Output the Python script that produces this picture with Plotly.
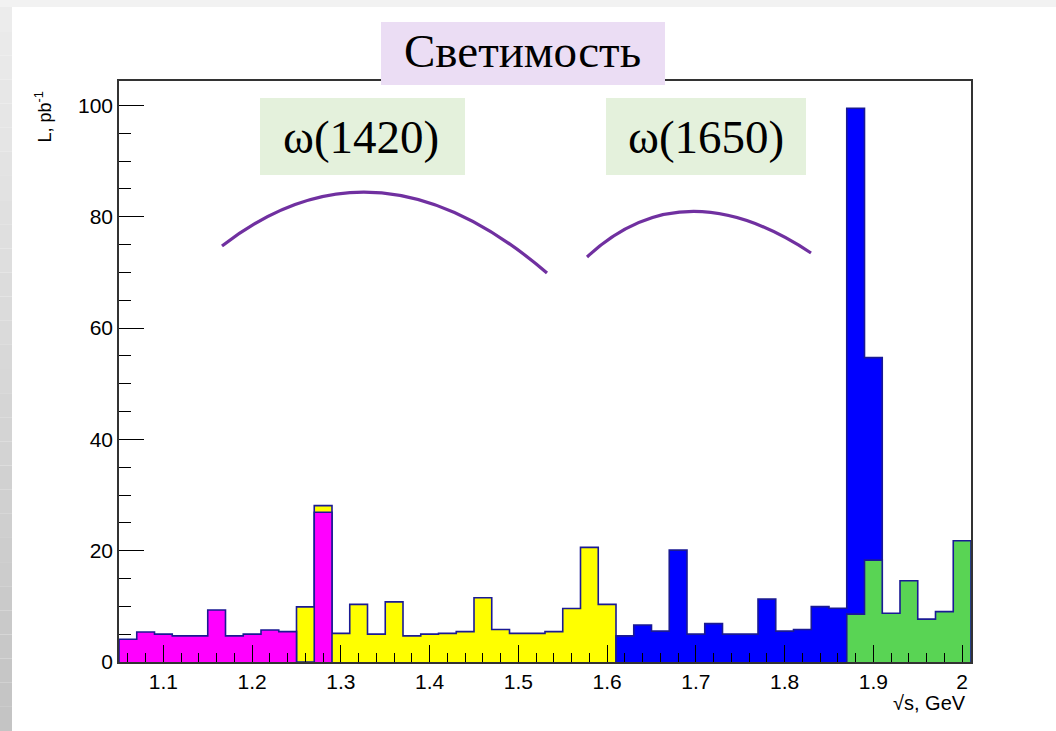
"""Светимость по энергии: гистограммы в стиле ROOT на слайде."""

import numpy as np
import plotly.graph_objects as go

# --- данные (значения L, pb^-1 в бинах по 0.02 ГэВ) ---
BIN_W = 0.02

MAGENTA_START = 1.05
magenta_vals = [4.1, 5.4, 5.0, 4.7, 4.7, 9.35, 4.7, 5.0, 5.75, 5.45, 0.0, 26.9]

YELLOW_START = 1.25
yellow_vals = [9.9, 28.1, 5.15, 10.35, 5.0, 10.8, 4.7, 5.0, 5.15, 5.45,
               11.55, 5.85, 5.15, 5.15, 5.45, 9.6, 20.6, 10.35]

BLUE_START = 1.61
blue_vals = [4.7, 6.65, 5.55, 20.1, 5.0, 6.9, 5.0, 5.0, 11.3, 5.55,
             5.85, 9.95, 9.65, 99.5, 54.7]

GREEN_START = 1.87
green_vals = [8.6, 18.3, 8.75, 14.6, 7.7, 9.05, 21.8]

x_tick_vals = [1.1, 1.2, 1.3, 1.4, 1.5, 1.6, 1.7, 1.8, 1.9, 2.0]
x_tick_text = ["1.1", "1.2", "1.3", "1.4", "1.5", "1.6", "1.7", "1.8", "1.9", "2"]
y_tick_vals = [0, 20, 40, 60, 80, 100]

# --- геометрия страницы (пиксели) ---
W, H = 1056, 731
L, R, T, B = 119, 971, 81, 662

COR_LINHA = "#1a1a94"
COR_ARCO = "#7030A0"


def px(xp, yp):
    """Пиксели страницы -> координаты paper."""
    return (xp - L) / (R - L), (B - yp) / (B - T)


def hist_trace(start, vals, fill):
    """Ступенчатая гистограмма с заливкой и контуром как в ROOT."""
    edges = np.round(start + BIN_W * np.arange(len(vals) + 1), 4)
    xs = [edges[0]] + list(edges[:-1]) + [edges[-1], edges[-1]]
    ys = [0.0] + list(vals) + [vals[-1], 0.0]
    return go.Scatter(
        x=xs, y=ys, mode="lines",
        line=dict(shape="hv", color=COR_LINHA, width=1.6),
        fill="tozeroy", fillcolor=fill,
        hoverinfo="skip", showlegend=False,
    )


fig = go.Figure()
fig.add_trace(hist_trace(YELLOW_START, yellow_vals, "#FFFF00"))
fig.add_trace(hist_trace(MAGENTA_START, magenta_vals, "#FF00FF"))
fig.add_trace(hist_trace(BLUE_START, blue_vals, "#0000FF"))
fig.add_trace(hist_trace(GREEN_START, green_vals, "#59D454"))

shapes = []

# Фон слайда: светлая полоса сверху и серый градиент слева.
x0, y0 = px(0, 0)
x1, y1 = px(W, 7)
shapes.append(dict(type="rect", xref="paper", yref="paper", x0=x0, x1=x1, y0=y1, y1=y0,
                   line=dict(width=0), fillcolor="#F2F2F2", layer="below"))
n_steps = 30
for i in range(n_steps):
    ya = 7 + (H - 7) * i / n_steps
    yb = 7 + (H - 7) * (i + 1) / n_steps
    g = int(236 - (236 - 196) * i / (n_steps - 1))
    xa, pa = px(0, ya)
    xb, pb = px(12, yb)
    shapes.append(dict(type="rect", xref="paper", yref="paper", x0=xa, x1=xb, y0=pb, y1=pa,
                       line=dict(width=0), fillcolor=f"rgb({g},{g},{g})", layer="below"))

# Плашки заголовка и резонансов.
for (bx0, by0, bx1, by1, cor) in [
    (381, 22, 665, 85, "#EBDDF4"),
    (260, 98, 465, 175, "#E4F1DC"),
    (606, 98, 806, 175, "#E4F1DC"),
]:
    a0, b0 = px(bx0, by0)
    a1, b1 = px(bx1, by1)
    shapes.append(dict(type="rect", xref="paper", yref="paper", x0=a0, x1=a1, y0=b1, y1=b0,
                       line=dict(width=0), fillcolor=cor, layer="above"))

# Дуги над областями резонансов.
for p0, c, p2 in [
    ((222, 246), (376, 126), (547, 273)),
    ((587, 257), (683, 168), (811, 253)),
]:
    a = px(*p0)
    b = px(*c)
    d = px(*p2)
    path = f"M {a[0]:.5f},{a[1]:.5f} Q {b[0]:.5f},{b[1]:.5f} {d[0]:.5f},{d[1]:.5f}"
    shapes.append(dict(type="path", xref="paper", yref="paper", path=path,
                       line=dict(color=COR_ARCO, width=3.2), layer="above"))

annotations = []
for txt, (cx, cy) in [
    ("Светимость", (522, 51)),
    ("ω(1420)", (361, 137)),
    ("ω(1650)", (706, 137)),
]:
    ax, ay = px(cx, cy)
    annotations.append(dict(xref="paper", yref="paper", x=ax, y=ay, text=txt,
                            showarrow=False, xanchor="center", yanchor="middle",
                            font=dict(family="Liberation Serif", size=47, color="black")))

ax, ay = px(968, 703)
annotations.append(dict(xref="paper", yref="paper", x=ax, y=ay, text="√s, GeV",
                        showarrow=False, xanchor="right", yanchor="middle",
                        font=dict(family="Liberation Sans", size=20, color="black")))
ax, ay = px(44, 90)
annotations.append(dict(xref="paper", yref="paper", x=ax, y=ay, text="L, pb<sup>-1</sup>",
                        showarrow=False, textangle=-90, xanchor="center", yanchor="top",
                        font=dict(family="Liberation Sans", size=18, color="black")))

fig.update_xaxes(
    range=[1.05, 2.01], tickvals=x_tick_vals, ticktext=x_tick_text,
    ticks="inside", ticklen=17, tickwidth=1.3, tickcolor="black",
    minor=dict(ticks="inside", ticklen=9, dtick=0.02, tick0=1.02, tickcolor="black"),
    showline=True, linecolor="#333333", linewidth=1.6, mirror=True,
    showgrid=False, zeroline=False,
    tickfont=dict(family="Liberation Sans", size=21, color="black"),
)
fig.update_yaxes(
    range=[0, 104.4], tickvals=y_tick_vals,
    ticks="inside", ticklen=25, tickwidth=1.3, tickcolor="black",
    minor=dict(ticks="inside", ticklen=12, dtick=5, tickcolor="black"),
    showline=True, linecolor="#333333", linewidth=1.6, mirror=True,
    showgrid=False, zeroline=False,
    tickfont=dict(family="Liberation Sans", size=21, color="black"),
)
fig.update_layout(
    width=W, height=H,
    margin=dict(l=L, r=W - R, t=T, b=H - B),
    paper_bgcolor="white", plot_bgcolor="white",
    shapes=shapes, annotations=annotations,
    showlegend=False,
)

# Страница без отступов браузера, чтобы рисунок совпал с окном.
fig.write_html(
    "out.html",
    config={"displayModeBar": False},
    post_script="document.body.style.margin='0';",
)
